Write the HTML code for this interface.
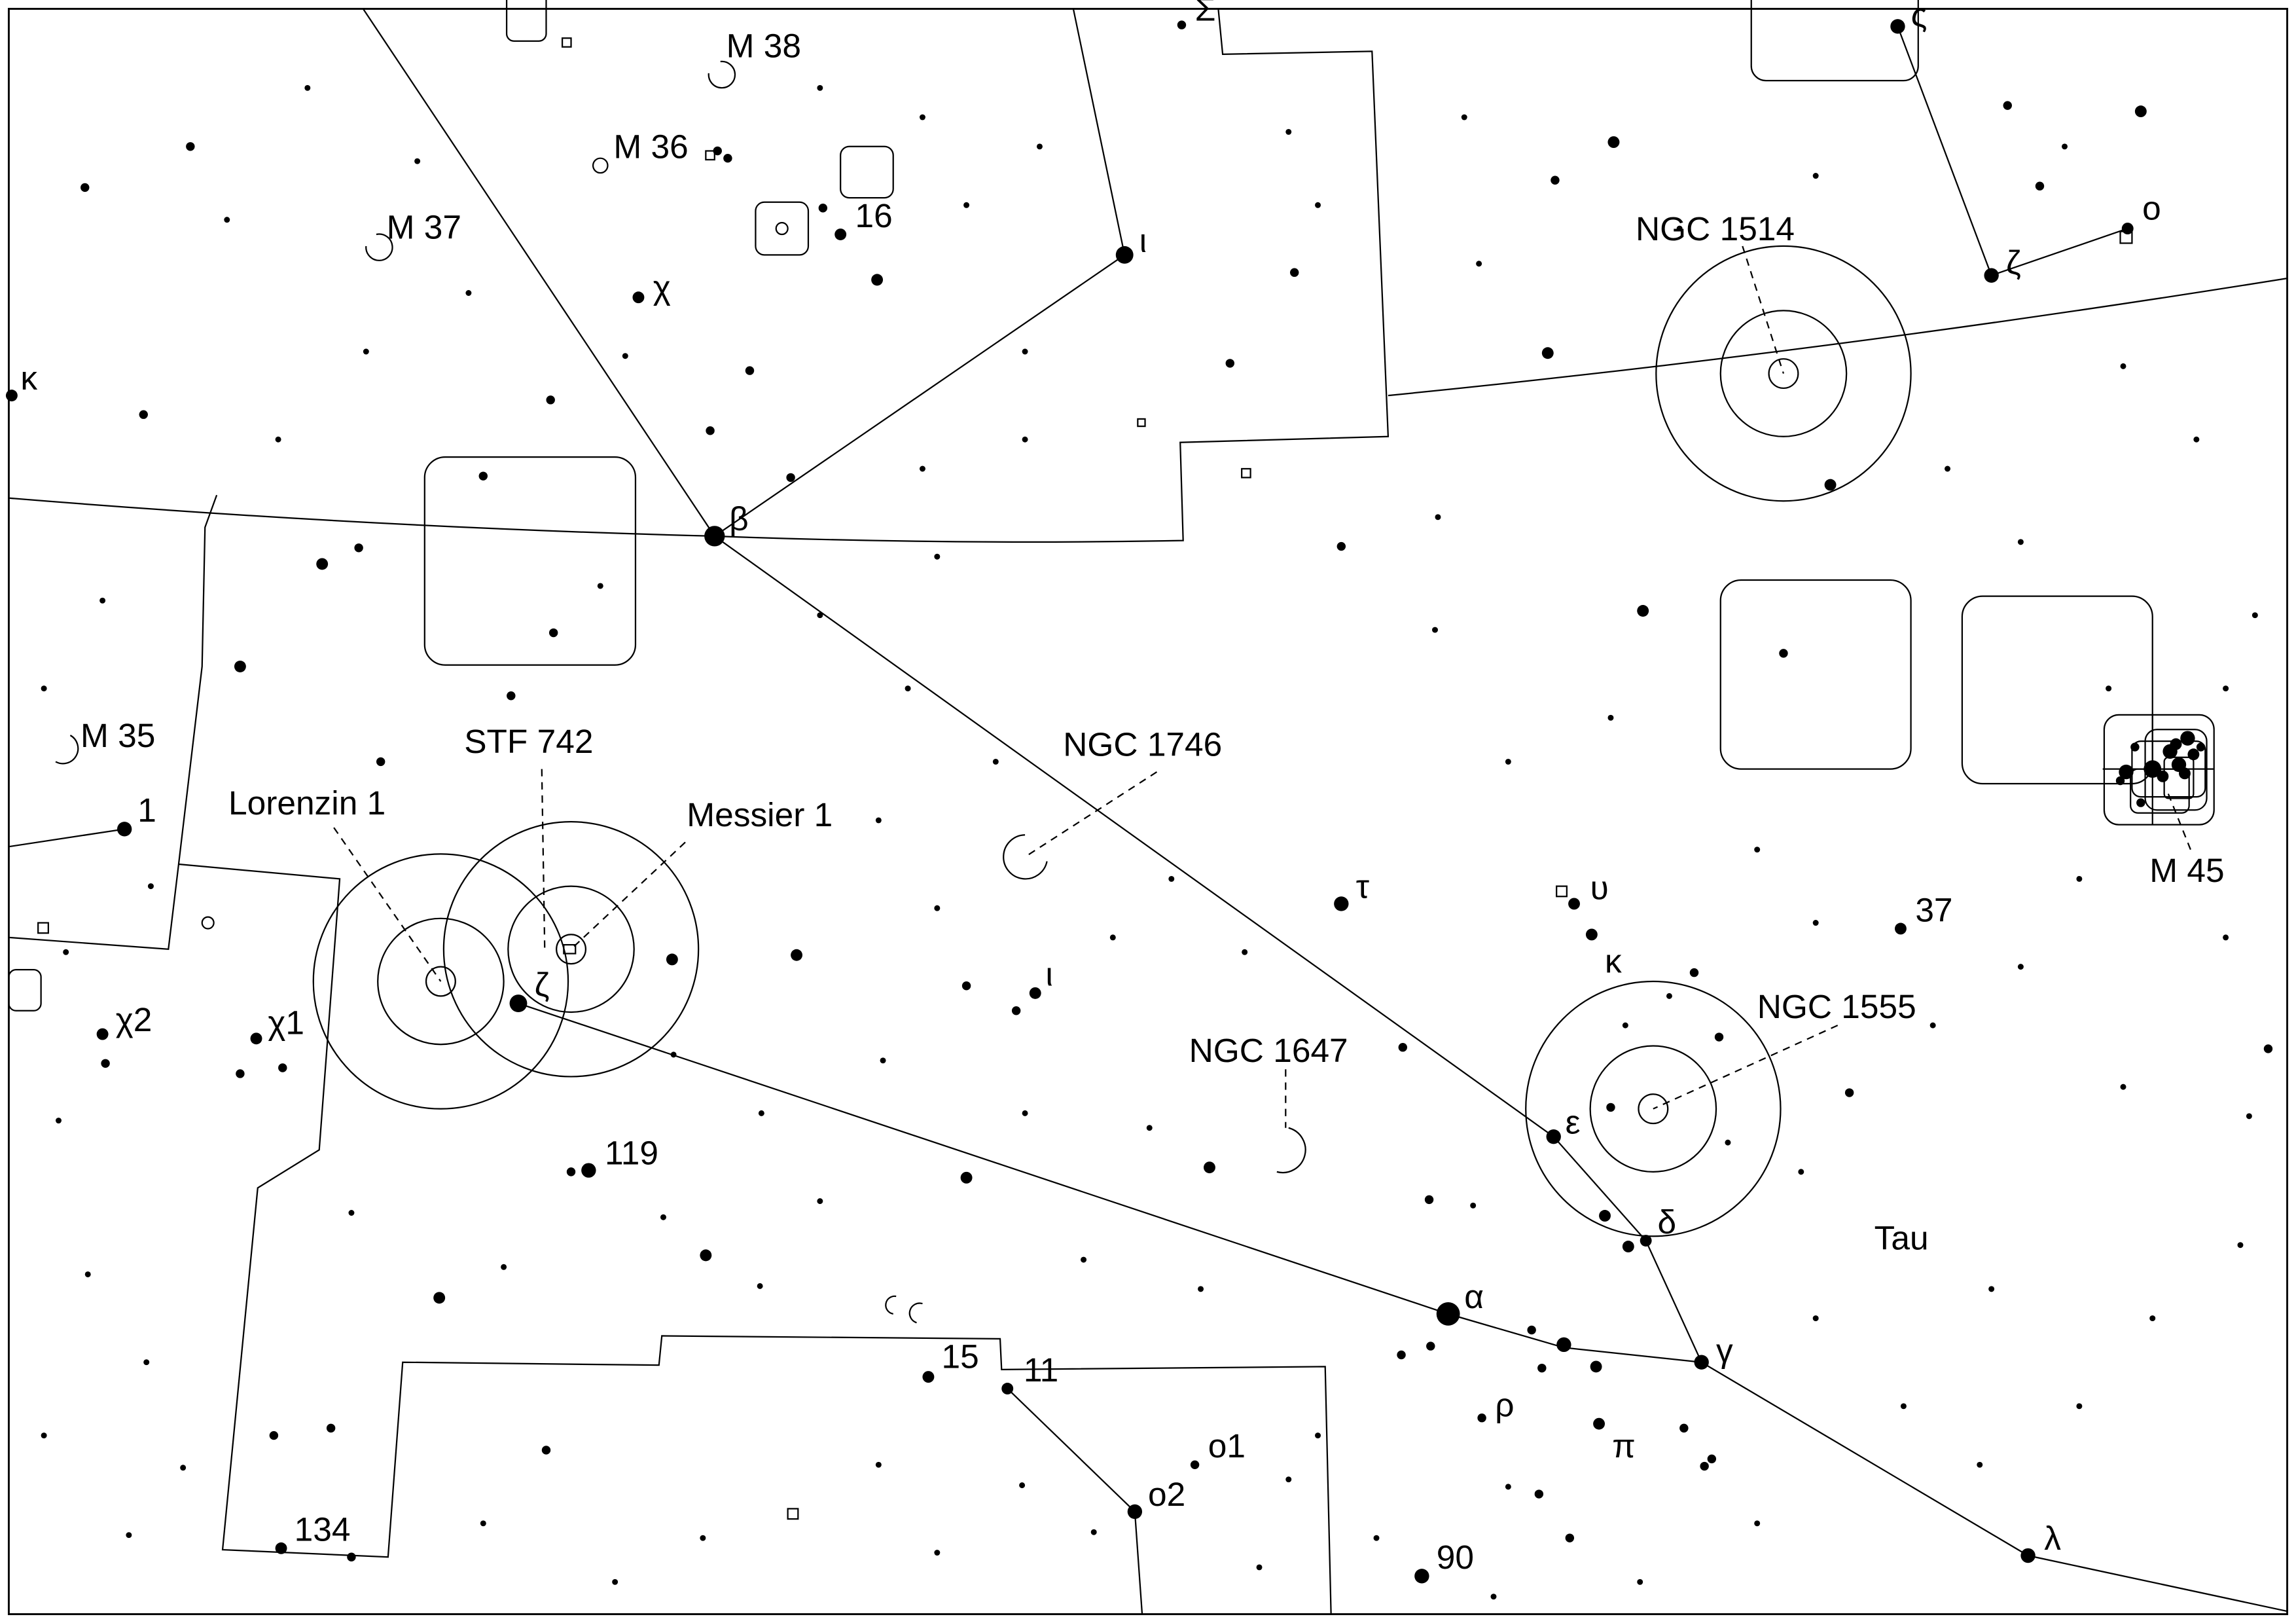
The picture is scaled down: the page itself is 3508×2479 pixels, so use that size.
<!DOCTYPE html>
<html><head><meta charset="utf-8"><style>
html,body{margin:0;padding:0;background:#fff}
svg{display:block}
text{font-family:"Liberation Sans",sans-serif;fill:#000}
</style></head><body>
<svg width="3508" height="2479" viewBox="0 0 1568 1108" xmlns="http://www.w3.org/2000/svg">
<rect x="0" y="0" width="1568" height="1108" fill="#fff"/>
<rect x="6" y="6" width="1556" height="1096" fill="none" stroke="#000" stroke-width="1.3"/>
<g fill="none" stroke="#000" stroke-width="1">
<polyline points="248,6 488,366 1061,776 1124,847 1162,930 1385,1062 1562,1100"/>
<polyline points="488,366 768,174 733,6"/>
<polyline points="354,685 989,897 1068,920 1162,930"/>
<polyline points="1296,18 1360,188 1453,156"/>
<polyline points="688,948 775,1032 780,1102"/>
<polyline points="6,578 85,566"/>
<path d="M6,340 Q250,360 488,366 Q650,372 808,369 L806,302 L948,298 L937,35 L835,37 L832,6"/>
<path d="M948,270 Q1250,240 1562,190"/>
<polyline points="148,338 140,360 138,455 122,590 115,648 6,640"/>
<polyline points="122,590 232,600 218,785 176,811 152,1058 265,1063 275,930 450,932 452,912 683,914 684,935 905,933 909,1102"/>
<circle cx="301" cy="670" r="87"/><circle cx="301" cy="670" r="43"/><circle cx="301" cy="670" r="10"/>
<circle cx="390" cy="648" r="87"/><circle cx="390" cy="648" r="43"/><circle cx="390" cy="648" r="10"/>
<circle cx="1218" cy="255" r="87"/><circle cx="1218" cy="255" r="43"/><circle cx="1218" cy="255" r="10"/>
<circle cx="1129" cy="757" r="87"/><circle cx="1129" cy="757" r="43"/><circle cx="1129" cy="757" r="10"/>
<rect x="290" y="312" width="144" height="142" rx="14"/>
<rect x="1175" y="396" width="130" height="129" rx="14"/>
<rect x="1340" y="407" width="130" height="128" rx="14"/>
<rect x="346" y="-10" width="27" height="38" rx="5"/>
<rect x="1196" y="-10" width="114" height="65" rx="10"/>
<rect x="574" y="100" width="36" height="35" rx="6"/>
<rect x="516" y="138" width="36" height="36" rx="6"/><circle cx="534" cy="156" r="4"/>
<rect x="1437" y="488" width="75" height="75" rx="10"/>
<rect x="1465" y="498" width="42" height="55" rx="8"/>
<rect x="1478" y="517" width="20" height="28" rx="3"/>
<rect x="1455" y="525" width="40" height="30" rx="5"/>
<rect x="1456" y="506" width="50" height="38" rx="6"/>
<line x1="1436" y1="525" x2="1512" y2="525"/><line x1="1470" y1="488" x2="1470" y2="563"/>
<rect x="6" y="662" width="22" height="28" rx="5"/>
<path d="M492,42 A9,9 0 1,1 484,50"/>
<circle cx="410" cy="113" r="5"/>
<path d="M257,160 A9,9 0 1,1 250,168"/>
<path d="M48,502 A10,10 0 1,1 38,520"/>
<circle cx="142" cy="630" r="4"/>
<path d="M700,570 A15,15 0 1,0 715,588"/>
<path d="M880,770 A14,14 0 1,1 872,800"/>
<path d="M612,885 A6,6 0 1,0 610,897"/><path d="M630,890 A6,6 0 1,0 626,903"/>
<rect x="384" y="26" width="6" height="6"/><rect x="482" y="103" width="6" height="6"/>
<rect x="777" y="286" width="5" height="5"/><rect x="848" y="320" width="6" height="6"/>
<rect x="26" y="630" width="7" height="7"/><rect x="538" y="1030" width="7" height="7"/>
<rect x="1448" y="158" width="8" height="8"/><rect x="1063" y="605" width="7" height="7"/>
<rect x="385" y="645" width="8" height="6"/>
</g>
<g fill="none" stroke="#000" stroke-width="1" stroke-dasharray="5,4">
<line x1="228" y1="565" x2="301" y2="670"/>
<line x1="370" y1="525" x2="372" y2="648"/>
<line x1="468" y1="575" x2="390" y2="648"/>
<line x1="790" y1="527" x2="700" y2="585"/>
<line x1="878" y1="730" x2="878" y2="770"/>
<line x1="1255" y1="700" x2="1129" y2="757"/>
<line x1="1190" y1="168" x2="1218" y2="255"/>
<line x1="1496" y1="580" x2="1480" y2="540"/>
</g>
<g fill="#000">
<circle cx="488" cy="366" r="7"/><circle cx="768" cy="174" r="6"/><circle cx="989" cy="897" r="8"/>
<circle cx="354" cy="685" r="6"/><circle cx="1061" cy="776" r="5"/><circle cx="1124" cy="847" r="4"/>
<circle cx="1162" cy="930" r="5"/><circle cx="1385" cy="1062" r="5"/><circle cx="1360" cy="188" r="5"/>
<circle cx="1453" cy="156" r="4"/><circle cx="1296" cy="18" r="5"/><circle cx="688" cy="948" r="4"/>
<circle cx="775" cy="1032" r="5"/><circle cx="85" cy="566" r="5"/><circle cx="8" cy="270" r="4"/>
<circle cx="436" cy="203" r="4"/><circle cx="402" cy="799" r="5"/><circle cx="390" cy="800" r="3"/>
<circle cx="192" cy="1057" r="4"/><circle cx="634" cy="940" r="4"/><circle cx="971" cy="1076" r="5"/>
<circle cx="916" cy="617" r="5"/><circle cx="1075" cy="617" r="4"/><circle cx="1087" cy="638" r="4"/>
<circle cx="1298" cy="634" r="4"/><circle cx="707" cy="678" r="4"/><circle cx="175" cy="709" r="4"/>
<circle cx="70" cy="706" r="4"/><circle cx="816" cy="1000" r="3"/><circle cx="1096" cy="830" r="4"/>
<circle cx="1112" cy="851" r="4"/><circle cx="1068" cy="918" r="5"/><circle cx="1090" cy="933" r="4"/>
<circle cx="1012" cy="968" r="3"/><circle cx="1092" cy="972" r="4"/><circle cx="1122" cy="417" r="4"/>
<circle cx="1462" cy="76" r="4"/><circle cx="1102" cy="97" r="4"/><circle cx="1057" cy="241" r="4"/>
<circle cx="1250" cy="331" r="4"/><circle cx="1218" cy="446" r="3"/><circle cx="1470" cy="525" r="6"/>
<circle cx="1488" cy="522" r="5"/><circle cx="1494" cy="504" r="5"/><circle cx="1482" cy="513" r="5"/>
<circle cx="1498" cy="515" r="4"/><circle cx="1452" cy="527" r="5"/><circle cx="1458" cy="510" r="3"/>
<circle cx="1486" cy="508" r="4"/><circle cx="1477" cy="530" r="4"/><circle cx="1492" cy="528" r="4"/>
<circle cx="1448" cy="533" r="3"/><circle cx="1462" cy="548" r="3"/><circle cx="1503" cy="510" r="3"/>
<circle cx="599" cy="191" r="4"/><circle cx="574" cy="160" r="4"/><circle cx="562" cy="142" r="3"/>
<circle cx="490" cy="103" r="3"/><circle cx="497" cy="108" r="3"/><circle cx="459" cy="655" r="4"/>
<circle cx="544" cy="652" r="4"/><circle cx="826" cy="797" r="4"/><circle cx="660" cy="804" r="4"/>
<circle cx="482" cy="857" r="4"/><circle cx="300" cy="886" r="4"/><circle cx="349" cy="475" r="3"/>
<circle cx="164" cy="455" r="4"/><circle cx="220" cy="385" r="4"/><circle cx="245" cy="374" r="3"/>
<circle cx="378" cy="432" r="3"/><circle cx="376" cy="273" r="3"/><circle cx="485" cy="294" r="3"/>
<circle cx="540" cy="326" r="3"/><circle cx="958" cy="715" r="3"/><circle cx="1174" cy="708" r="3"/>
<circle cx="1157" cy="664" r="3"/><circle cx="1100" cy="756" r="3"/><circle cx="1072" cy="1050" r="3"/>
<circle cx="1164" cy="1001" r="3"/><circle cx="1051" cy="1020" r="3"/><circle cx="957" cy="925" r="3"/>
<circle cx="977" cy="919" r="3"/><circle cx="1046" cy="908" r="3"/><circle cx="1053" cy="934" r="3"/>
<circle cx="600" cy="1000" r="2"/><circle cx="747" cy="1046" r="2"/><circle cx="373" cy="990" r="3"/>
<circle cx="226" cy="975" r="3"/><circle cx="187" cy="980" r="3"/><circle cx="240" cy="1063" r="3"/>
<circle cx="72" cy="726" r="3"/><circle cx="193" cy="729" r="3"/><circle cx="164" cy="733" r="3"/>
<circle cx="58" cy="128" r="3"/><circle cx="130" cy="100" r="3"/><circle cx="98" cy="283" r="3"/>
<circle cx="1549" cy="716" r="3"/><circle cx="1536" cy="762" r="2"/><circle cx="1450" cy="742" r="2"/>
<circle cx="1263" cy="746" r="3"/><circle cx="1371" cy="72" r="3"/><circle cx="1393" cy="127" r="3"/>
<circle cx="1410" cy="100" r="2"/><circle cx="1062" cy="123" r="3"/><circle cx="1147" cy="156" r="2"/>
<circle cx="884" cy="186" r="3"/><circle cx="916" cy="373" r="3"/><circle cx="982" cy="353" r="2"/>
<circle cx="840" cy="248" r="3"/><circle cx="807" cy="17" r="3"/><circle cx="512" cy="253" r="3"/>
<circle cx="427" cy="243" r="2"/><circle cx="660" cy="673" r="3"/><circle cx="694" cy="690" r="3"/>
<circle cx="603" cy="724" r="2"/><circle cx="785" cy="770" r="2"/><circle cx="976" cy="819" r="3"/>
<circle cx="1006" cy="823" r="2"/><circle cx="1230" cy="800" r="2"/><circle cx="1352" cy="1000" r="2"/>
<circle cx="1150" cy="975" r="3"/><circle cx="1169" cy="996" r="3"/><circle cx="1030" cy="1015" r="2"/>
<circle cx="900" cy="980" r="2"/><circle cx="880" cy="1010" r="2"/><circle cx="698" cy="1014" r="2"/>
<circle cx="125" cy="1002" r="2"/><circle cx="88" cy="1048" r="2"/><circle cx="240" cy="828" r="2"/>
<circle cx="453" cy="831" r="2"/><circle cx="519" cy="878" r="2"/><circle cx="344" cy="865" r="2"/>
<circle cx="45" cy="650" r="2"/><circle cx="103" cy="605" r="2"/><circle cx="40" cy="765" r="2"/>
<circle cx="155" cy="150" r="2"/><circle cx="210" cy="60" r="2"/><circle cx="285" cy="110" r="2"/>
<circle cx="320" cy="200" r="2"/><circle cx="250" cy="240" r="2"/><circle cx="190" cy="300" r="2"/>
<circle cx="70" cy="410" r="2"/><circle cx="30" cy="470" r="2"/><circle cx="260" cy="520" r="3"/>
<circle cx="330" cy="325" r="3"/><circle cx="410" cy="400" r="2"/><circle cx="560" cy="420" r="2"/>
<circle cx="620" cy="470" r="2"/><circle cx="680" cy="520" r="2"/><circle cx="600" cy="560" r="2"/>
<circle cx="640" cy="620" r="2"/><circle cx="760" cy="640" r="2"/><circle cx="800" cy="600" r="2"/>
<circle cx="850" cy="650" r="2"/><circle cx="700" cy="760" r="2"/><circle cx="740" cy="860" r="2"/>
<circle cx="820" cy="880" r="2"/><circle cx="560" cy="820" r="2"/><circle cx="520" cy="760" r="2"/>
<circle cx="460" cy="720" r="2"/><circle cx="640" cy="380" r="2"/><circle cx="700" cy="300" r="2"/>
<circle cx="630" cy="320" r="2"/><circle cx="700" cy="240" r="2"/><circle cx="630" cy="80" r="2"/>
<circle cx="560" cy="60" r="2"/><circle cx="660" cy="140" r="2"/><circle cx="710" cy="100" r="2"/>
<circle cx="880" cy="90" r="2"/><circle cx="900" cy="140" r="2"/><circle cx="1000" cy="80" r="2"/>
<circle cx="1010" cy="180" r="2"/><circle cx="980" cy="430" r="2"/><circle cx="1030" cy="520" r="2"/>
<circle cx="1100" cy="490" r="2"/><circle cx="1200" cy="580" r="2"/><circle cx="1240" cy="630" r="2"/>
<circle cx="1320" cy="700" r="2"/><circle cx="1380" cy="660" r="2"/><circle cx="1420" cy="600" r="2"/>
<circle cx="1520" cy="640" r="2"/><circle cx="1500" cy="300" r="2"/><circle cx="1450" cy="250" r="2"/>
<circle cx="1330" cy="320" r="2"/><circle cx="1380" cy="370" r="2"/><circle cx="1540" cy="420" r="2"/>
<circle cx="1530" cy="850" r="2"/><circle cx="1470" cy="900" r="2"/><circle cx="1420" cy="960" r="2"/>
<circle cx="1300" cy="960" r="2"/><circle cx="1240" cy="900" r="2"/><circle cx="1360" cy="880" r="2"/>
<circle cx="1200" cy="1040" r="2"/><circle cx="1120" cy="1080" r="2"/><circle cx="1020" cy="1090" r="2"/>
<circle cx="940" cy="1050" r="2"/><circle cx="860" cy="1070" r="2"/><circle cx="640" cy="1060" r="2"/>
<circle cx="480" cy="1050" r="2"/><circle cx="420" cy="1080" r="2"/><circle cx="330" cy="1040" r="2"/>
<circle cx="60" cy="870" r="2"/><circle cx="100" cy="930" r="2"/><circle cx="30" cy="980" r="2"/>
<circle cx="1140" cy="680" r="2"/><circle cx="1180" cy="780" r="2"/><circle cx="1110" cy="700" r="2"/>
<circle cx="1440" cy="470" r="2"/><circle cx="1520" cy="470" r="2"/><circle cx="1240" cy="120" r="2"/>
</g>
<g font-size="23">
<text x="496" y="39">M 38</text><text x="419" y="108">M 36</text><text x="264" y="163">M 37</text>
<text x="584" y="155">16</text><text x="446" y="204">χ</text><text x="778" y="172">ι</text>
<text x="14" y="266">κ</text><text x="498" y="362">β</text><text x="55" y="510">M 35</text>
<text x="94" y="561">1</text><text x="156" y="556">Lorenzin 1</text><text x="317" y="514">STF 742</text>
<text x="469" y="564">Messier 1</text><text x="726" y="516">NGC 1746</text><text x="365" y="680">ζ</text>
<text x="79" y="704">χ2</text><text x="183" y="706">χ1</text><text x="413" y="795">119</text>
<text x="714" y="673">ι</text><text x="812" y="725">NGC 1647</text><text x="926" y="613">τ</text>
<text x="1086" y="614">υ</text><text x="1096" y="664">κ</text><text x="1200" y="695">NGC 1555</text>
<text x="1308" y="629">37</text><text x="1468" y="602">M 45</text><text x="1117" y="164">NGC 1514</text>
<text x="1370" y="187">ζ</text><text x="1463" y="150">ο</text><text x="1069" y="774">ε</text>
<text x="1132" y="842">δ</text><text x="1280" y="853">Tau</text><text x="1000" y="893">α</text>
<text x="1172" y="930">γ</text><text x="1021" y="967">ρ</text><text x="1101" y="995">π</text>
<text x="643" y="934">15</text><text x="699" y="943">11</text><text x="825" y="995">ο1</text>
<text x="784" y="1028">ο2</text><text x="201" y="1052">134</text><text x="981" y="1071">90</text>
<text x="1396" y="1058">λ</text><text x="816" y="14">Σ</text><text x="1305" y="18">ς</text>
</g>
</svg>
</body></html>
